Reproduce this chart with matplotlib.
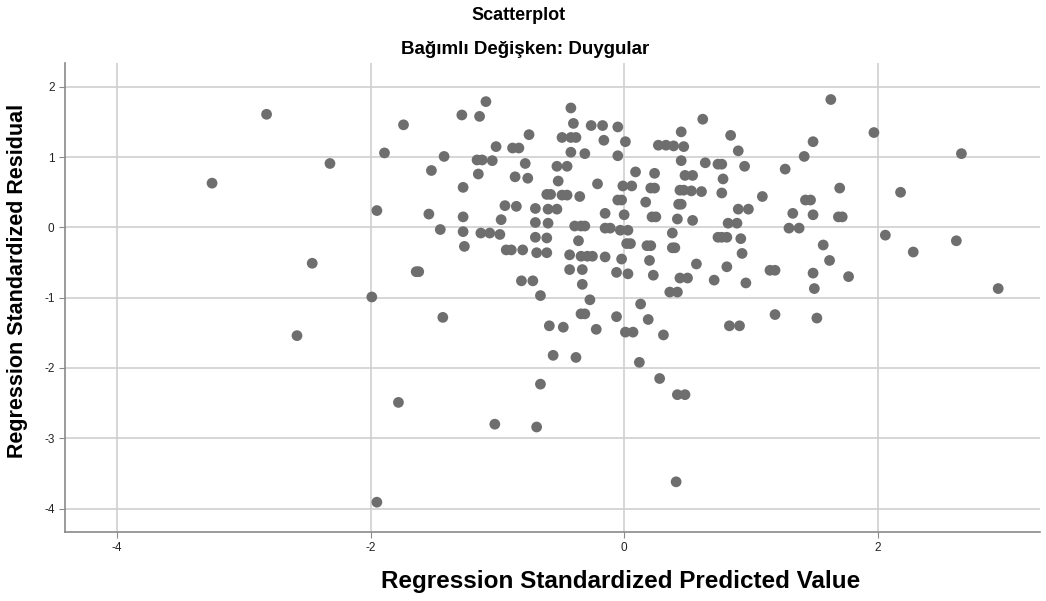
import numpy as np
import matplotlib
matplotlib.use("Agg")
from matplotlib import pyplot as plt

plt.rcParams['font.family'] = ['Liberation Sans', 'DejaVu Sans']
plt.rcParams['axes.unicode_minus'] = False

# Standardized predicted values (x) and standardized residuals (y)
predicted = [
    -3.25, -2.82, -2.32, -1.89, -1.95, -2.46, -1.99, -2.58, -1.95, -1.78,
    -1.74, -1.52, -1.54, -1.45, -1.64, -1.62, -1.42, -1.43,
    -1.02, -0.69, -0.66, -0.66, -0.59, -0.48, -0.56, -0.38, -0.27, -0.34,
    -0.31, -0.22, -0.06, 0.01, 0.07, 0.13, 0.19, 0.31, 0.12, 0.28,
    0.42, 0.48, 0.41, 0.36, 0.42,
    0.83, 0.91, 1.19, 1.52, 1.50, 2.95,
    1.63, 1.97, 2.66, 2.18, 2.06, 2.62, 2.28, 0.62, 0.84, 0.90,
    1.49, 1.42, 0.64, 0.74, 0.77, 0.95, 1.27, 0.78, 0.61, 0.77,
    1.09, 1.70, 1.43, 1.47, 0.90, 0.98, 1.33, 1.49, 1.69, 1.72,
    0.82, 0.89, 1.30, 1.38, 0.74, 0.77, 0.81, 0.92, 1.57, 0.93,
    1.62, 0.57, 0.81, 1.15, 1.19, 1.49, 1.77, 0.71, 0.96,
    0.18, 0.21, 0.38, 0.40, 0.20, 0.23, 0.44, 0.50,
    -1.09, -1.28, -1.14, -0.42, -0.40, -0.75, -0.49, -0.42, -0.38, -0.42,
    -1.01, -0.88, -0.83, -1.16, -1.12, -1.04, -0.78, -1.15, -0.86, -0.76,
    -0.53, -0.45, -0.52, -1.27, -0.61, -0.58, -0.49, -0.45, -0.35, -0.94,
    -0.85, -0.70, -0.60, -0.53, -1.27, -0.97, -0.70, -0.60, -0.39, -0.34,
    -0.31, -1.27, -1.13, -1.06, -0.98, -0.70, -0.61, -0.36, -1.26, -0.93,
    -0.89, -0.80, -0.69, -0.61,
    0.02, 0.05, -0.43, -0.34, -0.29, -0.25, -0.15, -0.02, -0.43, -0.33,
    -0.06, 0.03, -0.81, -0.72, -0.33,
    0.45, -0.26, -0.17, -0.05, -0.16, 0.01, -0.31, -0.05, 0.27, 0.33,
    0.39, 0.47, 0.45, 0.09, 0.24, 0.48, 0.54, -0.21, -0.01, 0.06,
    0.21, 0.24, 0.44, 0.47, 0.53, -0.05, -0.02, 0.17, 0.43, 0.45,
    -0.15, 0.00, 0.22, 0.25, 0.42, 0.54, -0.15, -0.11, -0.03, 0.03,
    0.38,
]
residual = [
    0.63, 1.61, 0.91, 1.06, 0.24, -0.51, -0.99, -1.54, -3.91, -2.49,
    1.46, 0.81, 0.19, -0.03, -0.63, -0.63, 1.01, -1.28,
    -2.80, -2.84, -0.97, -2.23, -1.40, -1.42, -1.82, -1.85, -1.03, -1.23,
    -1.23, -1.45, -1.27, -1.49, -1.49, -1.09, -1.31, -1.53, -1.92, -2.15,
    -2.38, -2.38, -3.62, -0.92, -0.92,
    -1.40, -1.40, -1.24, -1.29, -0.87, -0.87,
    1.82, 1.35, 1.05, 0.50, -0.11, -0.19, -0.35, 1.54, 1.31, 1.09,
    1.22, 1.01, 0.92, 0.90, 0.90, 0.87, 0.83, 0.69, 0.51, 0.49,
    0.44, 0.56, 0.39, 0.39, 0.26, 0.26, 0.20, 0.18, 0.15, 0.15,
    0.06, 0.06, -0.01, -0.01, -0.14, -0.14, -0.14, -0.16, -0.25, -0.37,
    -0.47, -0.52, -0.56, -0.61, -0.61, -0.65, -0.70, -0.75, -0.79,
    -0.26, -0.26, -0.29, -0.29, -0.47, -0.68, -0.72, -0.72,
    1.79, 1.60, 1.58, 1.70, 1.48, 1.32, 1.28, 1.28, 1.28, 1.07,
    1.15, 1.13, 1.13, 0.96, 0.96, 0.95, 0.91, 0.76, 0.72, 0.70,
    0.87, 0.87, 0.66, 0.57, 0.47, 0.47, 0.46, 0.46, 0.44, 0.31,
    0.30, 0.27, 0.26, 0.26, 0.15, 0.11, 0.07, 0.06, 0.02, 0.02,
    0.02, -0.06, -0.08, -0.08, -0.10, -0.14, -0.15, -0.19, -0.27, -0.32,
    -0.32, -0.32, -0.36, -0.36,
    -0.23, -0.23, -0.39, -0.41, -0.41, -0.41, -0.42, -0.45, -0.60, -0.60,
    -0.64, -0.66, -0.76, -0.76, -0.81,
    1.36, 1.45, 1.45, 1.43, 1.24, 1.22, 1.05, 1.02, 1.17, 1.17,
    1.16, 1.15, 0.95, 0.79, 0.77, 0.74, 0.74, 0.62, 0.59, 0.59,
    0.56, 0.56, 0.53, 0.53, 0.52, 0.39, 0.39, 0.36, 0.33, 0.33,
    0.20, 0.18, 0.15, 0.15, 0.12, 0.10, -0.01, -0.01, -0.04, -0.04,
    -0.08,
]

x_ticks = [-4, -2, 0, 2]
y_ticks = [-4, -3, -2, -1, 0, 1, 2]

fig = plt.figure(figsize=(10.46, 6.01), dpi=100)
ax = fig.add_axes([0.0621, 0.1153, 0.9322, 0.7799])

ax.scatter(predicted, residual, s=60, color='#6e6e6e', edgecolors='none', zorder=3)

ax.set_xlim(-4.41, 3.28)
ax.set_ylim(-4.33, 2.34)
ax.set_xticks(x_ticks)
ax.set_yticks(y_ticks)
ax.grid(True, color='#cfcfcf', linewidth=1.2, zorder=0)
ax.set_axisbelow(True)

for side in ['top', 'right']:
    ax.spines[side].set_visible(False)
for side in ['left', 'bottom']:
    ax.spines[side].set_color('#8a8a8a')
    ax.spines[side].set_linewidth(1.2)
ax.tick_params(axis='both', labelsize=8.5, length=4, color='#8a8a8a', labelcolor='#222222')

fig.text(0.496, 0.975, 'Scatterplot', ha='center', va='center', fontsize=13, fontweight='bold')
fig.text(0.502, 0.917, 'Bağımlı Değişken: Duygular', ha='center', va='center', fontsize=13.5, fontweight='bold')
fig.text(0.593, 0.032, 'Regression Standardized Predicted Value', ha='center', va='center',
         fontsize=17.5, fontweight='bold')
fig.text(0.017, 0.532, 'Regression Standardized Residual', ha='center', va='center',
         fontsize=15.5, fontweight='bold', rotation=90)

fig.savefig('out.png', dpi=100)
